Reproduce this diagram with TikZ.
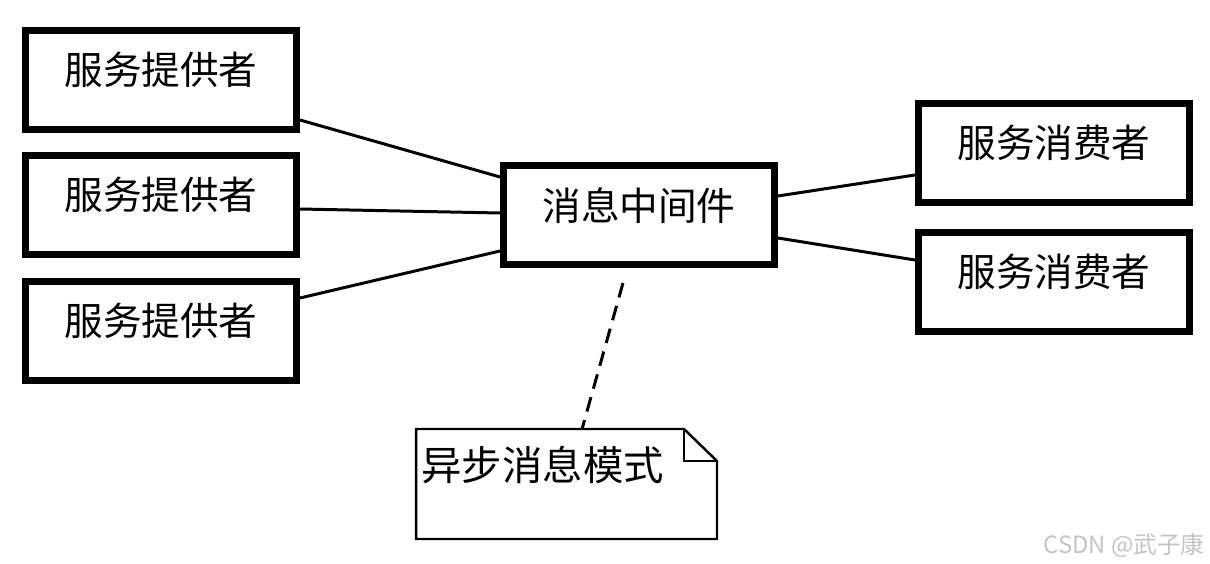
\documentclass[tikz,border=0pt]{standalone}
\usepackage{fontspec}
\newfontfamily\cjk{Noto Sans CJK SC}
\usetikzlibrary{calc}
\definecolor{wmgray}{HTML}{C4C4C4}

\begin{document}
\begin{tikzpicture}[x=0.02cm,y=-0.02cm,
  every node/.style={font=\cjk\fontsize{22}{26}\selectfont},
  comp/.style={draw,line width=4pt,minimum width=5.42cm,minimum height=1.98cm,text depth=13pt},
  wire/.style={line width=1.7pt}]
 \useasboundingbox (0,0) rectangle (1210,564);
 % providers, middleware, consumers
 \foreach \y/\n in {80/1,205/2,331/3}
   {\node[comp] (p\n) at (161,\y) {服务提供者};}
 \node[comp] (mw) at (639,215) {消息中间件};
 \node[comp] (c1) at (1054,153) {服务消费者};
 \node[comp] (c2) at (1054,282) {服务消费者};
 \draw[wire] ($(p1.east)+(0,40)$) -- ($(mw.west)+(0,-38)$);
 \draw[wire] ($(p2.east)+(0,4)$) -- ($(mw.west)+(0,-2)$);
 \draw[wire] ($(p3.east)+(0,-33)$) -- ($(mw.west)+(0,36)$);
 \draw[wire] ($(mw.east)+(0,-19)$) -- ($(c1.west)+(0,22)$);
 \draw[wire] ($(mw.east)+(0,23)$) -- ($(c2.west)+(0,-22)$);
 % note
 \node[minimum width=6.02cm,minimum height=2.2cm,inner sep=0pt,outer sep=0pt] (note) at (566.5,484) {};
 \draw[line width=1.4pt] (note.north west) -- ($(note.north east)+(-33,0)$)
   -- ($(note.north east)+(0,32)$) -- (note.south east) -- (note.south west) -- cycle;
 \draw[line width=1.4pt] ($(note.north east)+(-33,0)$) |- ($(note.north east)+(0,32)$);
 \node[anchor=west,inner sep=0pt,font=\cjk\fontsize{23}{27}\selectfont] (notetxt) at ($(note.north west)+(5,36)$) {异步消息模式};
 \draw[wire,dash pattern=on 8.5pt off 5pt] ($(mw.south)+(-16,15)$) -- ($(note.north west)+(166,0)$);
 \node[font=\cjk\fontsize{13.5}{16}\selectfont,text=wmgray,anchor=east,inner sep=0pt] (wm) at (1205,545) {CSDN @武子康};
\end{tikzpicture}
\end{document}
